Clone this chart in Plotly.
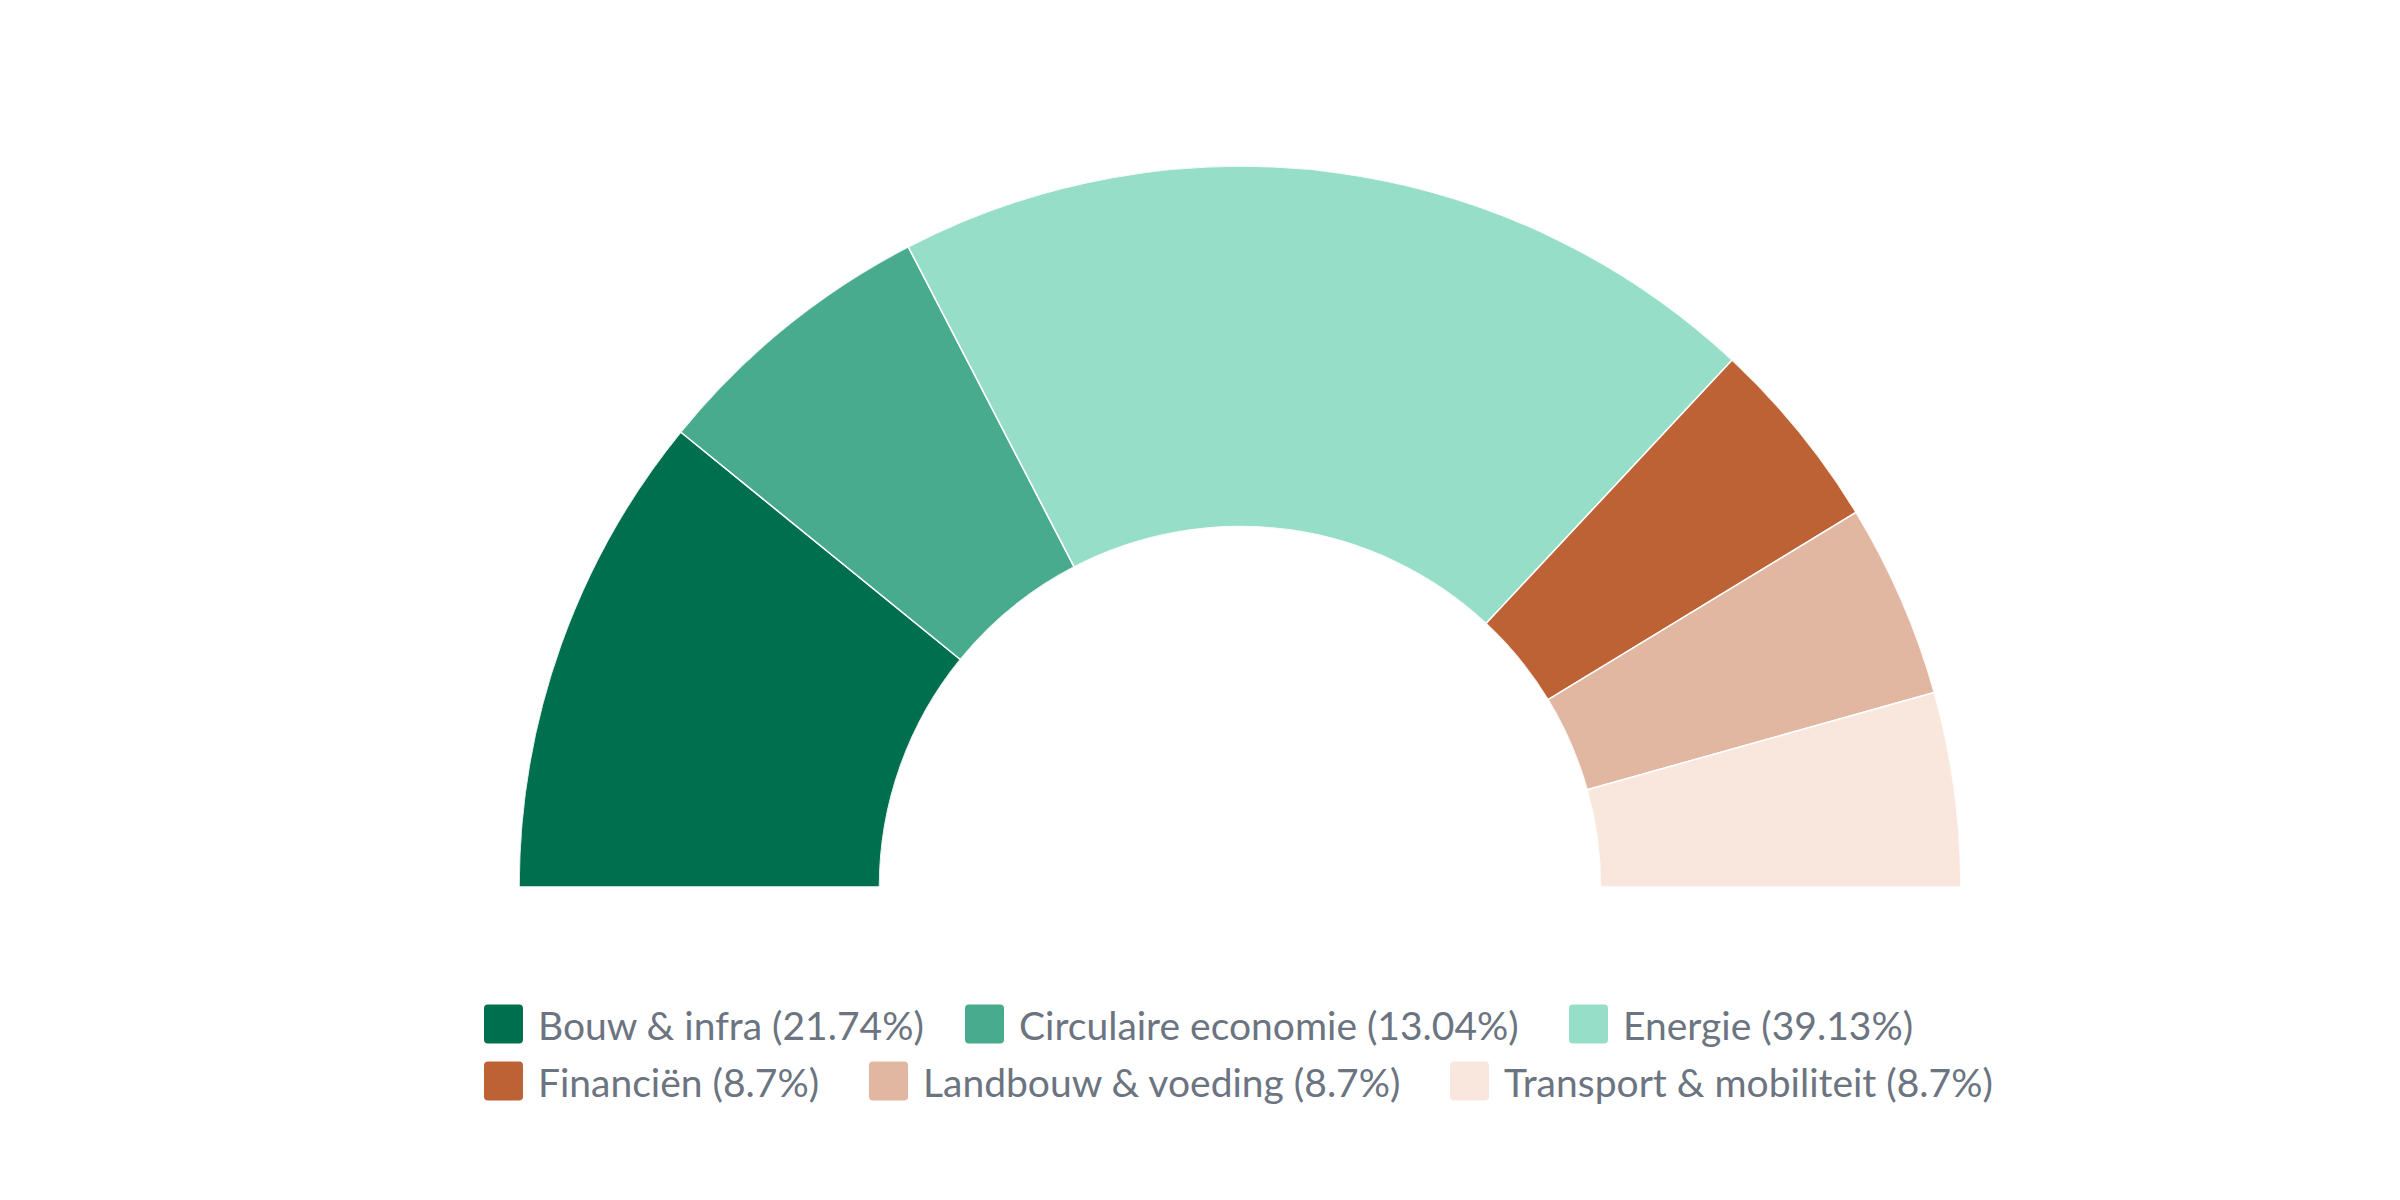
import plotly.graph_objects as go

# sectoren en aantallen (percentages in de legenda volgen hieruit)
sectors = ["Bouw & infra", "Circulaire economie", "Energie",
           "Financiën", "Landbouw & voeding", "Transport & mobiliteit"]
counts = [5, 3, 9, 2, 2, 2]
colors = ["#006f4e", "#48ab8d", "#97dec9", "#bd6235", "#e2b7a2", "#f9e7de"]

total = sum(counts)
shares = [round(c / total * 100, 2) for c in counts]
labels = [f"{s} ({p:g}%)" for s, p in zip(sectors, shares)]

# halve donut: elke sector krijgt een stuk van 180 graden
widths = [c / total * 180 for c in counts]
starts = [sum(widths[:i]) for i in range(len(widths))]
thetas = [s + w / 2 for s, w in zip(starts, widths)]

# pagina heeft 8px body-marge, dus de figuur is 16px kleiner
OFF = 8
W, H = 2400 - 2 * OFF, 1200 - 2 * OFF
TEXT = "#6b7480"

fig = go.Figure()
for name, th, w, col in zip(labels, thetas, widths, colors):
    fig.add_trace(go.Barpolar(
        r=[1], theta=[th], width=[w], name=name,
        marker=dict(color=col, line=dict(color="white", width=1.5)),
        hovertemplate=name + "<extra></extra>",
        showlegend=False,
    ))

# eigen legenda (twee rijen, links uitgelijnd), posities in schermpixels
legend_pos = [(484, 1024), (965, 1024), (1569, 1024),
              (484, 1081), (869, 1081), (1450, 1081)]
SQ, RAD = 39, 4


def px(x, y):
    return f"{(x - OFF) / W:.6f},{1 - (y - OFF) / H:.6f}"


def rounded_square(x0, yc):
    y0, x1, y1 = yc - SQ / 2, x0 + SQ, yc + SQ / 2
    return ("M" + px(x0 + RAD, y0) + " L" + px(x1 - RAD, y0) +
            " Q" + px(x1, y0) + " " + px(x1, y0 + RAD) +
            " L" + px(x1, y1 - RAD) +
            " Q" + px(x1, y1) + " " + px(x1 - RAD, y1) +
            " L" + px(x0 + RAD, y1) +
            " Q" + px(x0, y1) + " " + px(x0, y1 - RAD) +
            " L" + px(x0, y0 + RAD) +
            " Q" + px(x0, y0) + " " + px(x0 + RAD, y0) + " Z")


shapes, annotations = [], []
for (x, yc), col, lab in zip(legend_pos, colors, labels):
    shapes.append(dict(type="path", xref="paper", yref="paper",
                       path=rounded_square(x, yc), fillcolor=col,
                       line=dict(width=0), layer="above"))
    annotations.append(dict(xref="paper", yref="paper",
                            x=(x + SQ + 13 - OFF) / W,
                            y=1 - (yc + 1 - OFF) / H,
                            xanchor="left", yanchor="middle",
                            text=lab, showarrow=False,
                            font=dict(family="Lato", size=39, color=TEXT)))

# donut: middelpunt (1240, 887), straal 721 px
cx, cy, R = 1240, 887, 721
fig.update_layout(
    width=W, height=H,
    margin=dict(l=0, r=0, t=0, b=0),
    paper_bgcolor="white",
    font=dict(family="Lato", color=TEXT),
    showlegend=False,
    polar=dict(
        domain=dict(x=[(cx - R - OFF) / W, (cx + R - OFF) / W],
                    y=[1 - (cy - OFF) / H, 1 - (cy - R - OFF) / H]),
        sector=[0, 180],
        hole=0.5,
        bgcolor="white",
        angularaxis=dict(rotation=180, direction="clockwise", visible=False,
                         showgrid=False, showline=False, ticks=""),
        radialaxis=dict(range=[0, 1], visible=False, showgrid=False,
                        showline=False, ticks=""),
    ),
    shapes=shapes,
    annotations=annotations,
)

fig.write_html("out.html")
